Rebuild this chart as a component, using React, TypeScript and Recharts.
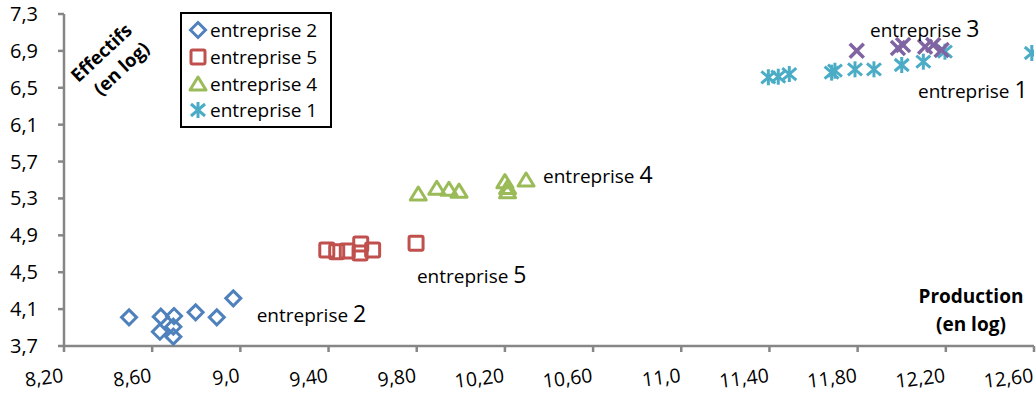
import { Legend, ReferenceDot, Scatter, ScatterChart, XAxis, YAxis } from "recharts";

const FONT = "'Open Sans', sans-serif";
const AXIS = "#868686";

const xTicks = [8.2, 8.6, 9.0, 9.4, 9.8, 10.2, 10.6, 11.0, 11.4, 11.8, 12.2, 12.6];
const xTickLabels = ["8,20", "8,60", "9,0", "9,40", "9,80", "10,20", "10,60", "11,0", "11,40", "11,80", "12,20", "12,60"];
const yTicks = [3.7, 4.1, 4.5, 4.9, 5.3, 5.7, 6.1, 6.5, 6.9, 7.3];
const yTickLabels = ["3,7", "4,1", "4,5", "4,9", "5,3", "5,7", "6,1", "6,5", "6,9", "7,3"];

const legendOrder = ["entreprise 2", "entreprise 5", "entreprise 4", "entreprise 1"];

const entreprise2 = [
  { x: 8.495, y: 4.011 },
  { x: 8.639, y: 4.018 },
  { x: 8.699, y: 4.025 },
  { x: 8.635, y: 3.855 },
  { x: 8.696, y: 3.909 },
  { x: 8.696, y: 3.801 },
  { x: 8.797, y: 4.065 },
  { x: 8.893, y: 4.011 },
  { x: 8.968, y: 4.217 },
];
const entreprise5 = [
  { x: 9.392, y: 4.741 },
  { x: 9.437, y: 4.723 },
  { x: 9.485, y: 4.731 },
  { x: 9.546, y: 4.806 },
  { x: 9.543, y: 4.708 },
  { x: 9.6, y: 4.741 },
  { x: 9.797, y: 4.814 },
];
const entreprise4 = [
  { x: 9.807, y: 5.348 },
  { x: 9.891, y: 5.41 },
  { x: 9.946, y: 5.4 },
  { x: 9.992, y: 5.379 },
  { x: 10.2, y: 5.482 },
  { x: 10.212, y: 5.419 },
  { x: 10.212, y: 5.373 },
  { x: 10.296, y: 5.5 },
];
const entreprise1 = [
  { x: 11.395, y: 6.614 },
  { x: 11.44, y: 6.62 },
  { x: 11.49, y: 6.649 },
  { x: 11.682, y: 6.664 },
  { x: 11.697, y: 6.685 },
  { x: 11.788, y: 6.7 },
  { x: 11.874, y: 6.7 },
  { x: 12.0, y: 6.747 },
  { x: 12.098, y: 6.783 },
  { x: 12.196, y: 6.891 },
  { x: 12.59, y: 6.877 },
];
const entreprise3 = [
  { x: 11.796, y: 6.902 },
  { x: 11.983, y: 6.931 },
  { x: 12.006, y: 6.964 },
  { x: 12.106, y: 6.946 },
  { x: 12.143, y: 6.964 },
  { x: 12.181, y: 6.91 },
];

const annotations = [
  { word: "entreprise", digit: "2", x: 9.074, y: 3.96 },
  { word: "entreprise", digit: "5", x: 9.801, y: 4.383 },
  { word: "entreprise", digit: "4", x: 10.373, y: 5.468 },
  { word: "entreprise", digit: "3", x: 11.856, y: 7.054 },
  { word: "entreprise", digit: "1", x: 12.074, y: 6.386 },
];

const COLORS: Record<string, string> = {
  "entreprise 2": "#4F81BD",
  "entreprise 5": "#C0504D",
  "entreprise 4": "#9BBB59",
  "entreprise 1": "#4BACC6",
  "entreprise 3": "#8064A2",
};

function Marker({ kind, cx, cy, color }: { kind: string; cx: number; cy: number; color: string }) {
  const sw = 3;
  if (kind === "entreprise 2")
    return <path d={`M${cx},${cy - 7.5}L${cx + 7.5},${cy}L${cx},${cy + 7.5}L${cx - 7.5},${cy}Z`} fill="none" stroke={color} strokeWidth={sw} />;
  if (kind === "entreprise 5")
    return <rect x={cx - 7} y={cy - 7} width={14} height={14} rx={1.5} fill="none" stroke={color} strokeWidth={sw} />;
  if (kind === "entreprise 4")
    return <path d={`M${cx},${cy - 7}L${cx + 8},${cy + 6}L${cx - 8},${cy + 6}Z`} fill="none" stroke={color} strokeWidth={sw} strokeLinejoin="round" />;
  if (kind === "entreprise 1")
    return (
      <g stroke={color} strokeWidth={sw}>
        <line x1={cx} y1={cy - 8} x2={cx} y2={cy + 8} />
        <line x1={cx - 7} y1={cy - 6} x2={cx + 7} y2={cy + 6} />
        <line x1={cx - 7} y1={cy + 6} x2={cx + 7} y2={cy - 6} />
      </g>
    );
  return (
    <g stroke={color} strokeWidth={3.5}>
      <line x1={cx - 7} y1={cy - 7} x2={cx + 7} y2={cy + 7} />
      <line x1={cx - 7} y1={cy + 7} x2={cx + 7} y2={cy - 7} />
    </g>
  );
}

const shapeFor = (name: string) => (p: any) => <Marker kind={name} cx={p.cx} cy={p.cy} color={COLORS[name]} />;

function XTick(props: any) {
  const { x, y, index } = props;
  return (
    <g transform={`translate(${x},${y + 28})`}>
      <text textAnchor="end" transform="rotate(-7)" fontFamily={FONT} fontSize={19.5} fill="#000">
        {xTickLabels[index]}
      </text>
    </g>
  );
}

function YTick(props: any) {
  const { x, y, index } = props;
  return (
    <text x={x - 18} y={y} dy={7} textAnchor="end" fontFamily={FONT} fontSize={20} fill="#000">
      {yTickLabels[index]}
    </text>
  );
}

function LegendBox({ payload }: any) {
  const items = (payload || [])
    .filter((e: any) => legendOrder.includes(e.value))
    .sort((a: any, b: any) => legendOrder.indexOf(a.value) - legendOrder.indexOf(b.value));
  return (
    <div
      style={{
        border: "2px solid #000",
        background: "#fff",
        width: 152,
        height: 116,
        boxSizing: "border-box",
        padding: "3px 0 0 6px",
        fontFamily: FONT,
        fontSize: 19,
        color: "#000",
      }}
    >
      {items.map((e: any) => (
        <div key={e.value} style={{ display: "flex", alignItems: "center", height: 26.7 }}>
          <svg width={20} height={20} style={{ marginRight: 2 }}>
            <Marker kind={e.value} cx={10} cy={10} color={COLORS[e.value]} />
          </svg>
          <span style={{ lineHeight: "20px" }}>{e.value}</span>
        </div>
      ))}
    </div>
  );
}

export default function App() {
  return (
    <div style={{ position: "absolute", left: 0, top: 0, width: 1036, height: 397, background: "#fff" }}>
      <ScatterChart width={1036} height={397} margin={{ top: 14, right: 2, bottom: 11, left: 24 }}>
        <XAxis
          type="number"
          dataKey="x"
          domain={[8.2, 12.6]}
          ticks={xTicks}
          tick={<XTick />}
          tickSize={6}
          stroke={AXIS}
          strokeWidth={2.5}
          height={40}
          interval={0}
          allowDataOverflow
        />
        <YAxis
          type="number"
          dataKey="y"
          domain={[3.7, 7.3]}
          ticks={yTicks}
          tick={<YTick />}
          tickSize={6}
          stroke={AXIS}
          strokeWidth={2.5}
          width={40}
          interval={0}
          allowDataOverflow
        />
        <Legend
          layout="vertical"
          align="center"
          verticalAlign="middle"
          content={<LegendBox />}
          wrapperStyle={{ left: 180, top: 12, width: 152, height: 116 }}
        />
        <Scatter name="entreprise 2" data={entreprise2} shape={shapeFor("entreprise 2")} isAnimationActive={false} />
        <Scatter name="entreprise 5" data={entreprise5} shape={shapeFor("entreprise 5")} isAnimationActive={false} />
        <Scatter name="entreprise 4" data={entreprise4} shape={shapeFor("entreprise 4")} isAnimationActive={false} />
        <Scatter name="entreprise 1" data={entreprise1} shape={shapeFor("entreprise 1")} isAnimationActive={false} />
        <Scatter name="entreprise 3" data={entreprise3} shape={shapeFor("entreprise 3")} legendType="none" isAnimationActive={false} />
        {annotations.map((a) => (
          <ReferenceDot
            key={a.digit}
            x={a.x}
            y={a.y}
            r={0}
            ifOverflow="visible"
            shape={(p: any) => (
              <text x={p.cx} y={p.cy} fontFamily={FONT} fill="#000">
                <tspan fontSize={19}>{a.word} </tspan>
                <tspan fontSize={23}>{a.digit}</tspan>
              </text>
            )}
          />
        ))}
        <ReferenceDot
          x={8.371}
          y={6.874}
          r={0}
          ifOverflow="visible"
          shape={(p: any) => (
            <g transform={`translate(${p.cx},${p.cy}) rotate(-43)`} fontFamily={FONT} fontWeight="bold" fontSize={18.5} fill="#000">
              <text x={0} y={6} textAnchor="middle">Effectifs</text>
              <text x={4} y={31} textAnchor="middle">(en log)</text>
            </g>
          )}
        />
        <ReferenceDot
          x={12.314}
          y={4.166}
          r={0}
          ifOverflow="visible"
          shape={(p: any) => (
            <g fontFamily={FONT} fontWeight="bold" fontSize={19} fill="#000">
              <text x={p.cx} y={p.cy} textAnchor="middle">Production</text>
              <text x={p.cx} y={p.cy + 28} textAnchor="middle">(en log)</text>
            </g>
          )}
        />
      </ScatterChart>
    </div>
  );
}
